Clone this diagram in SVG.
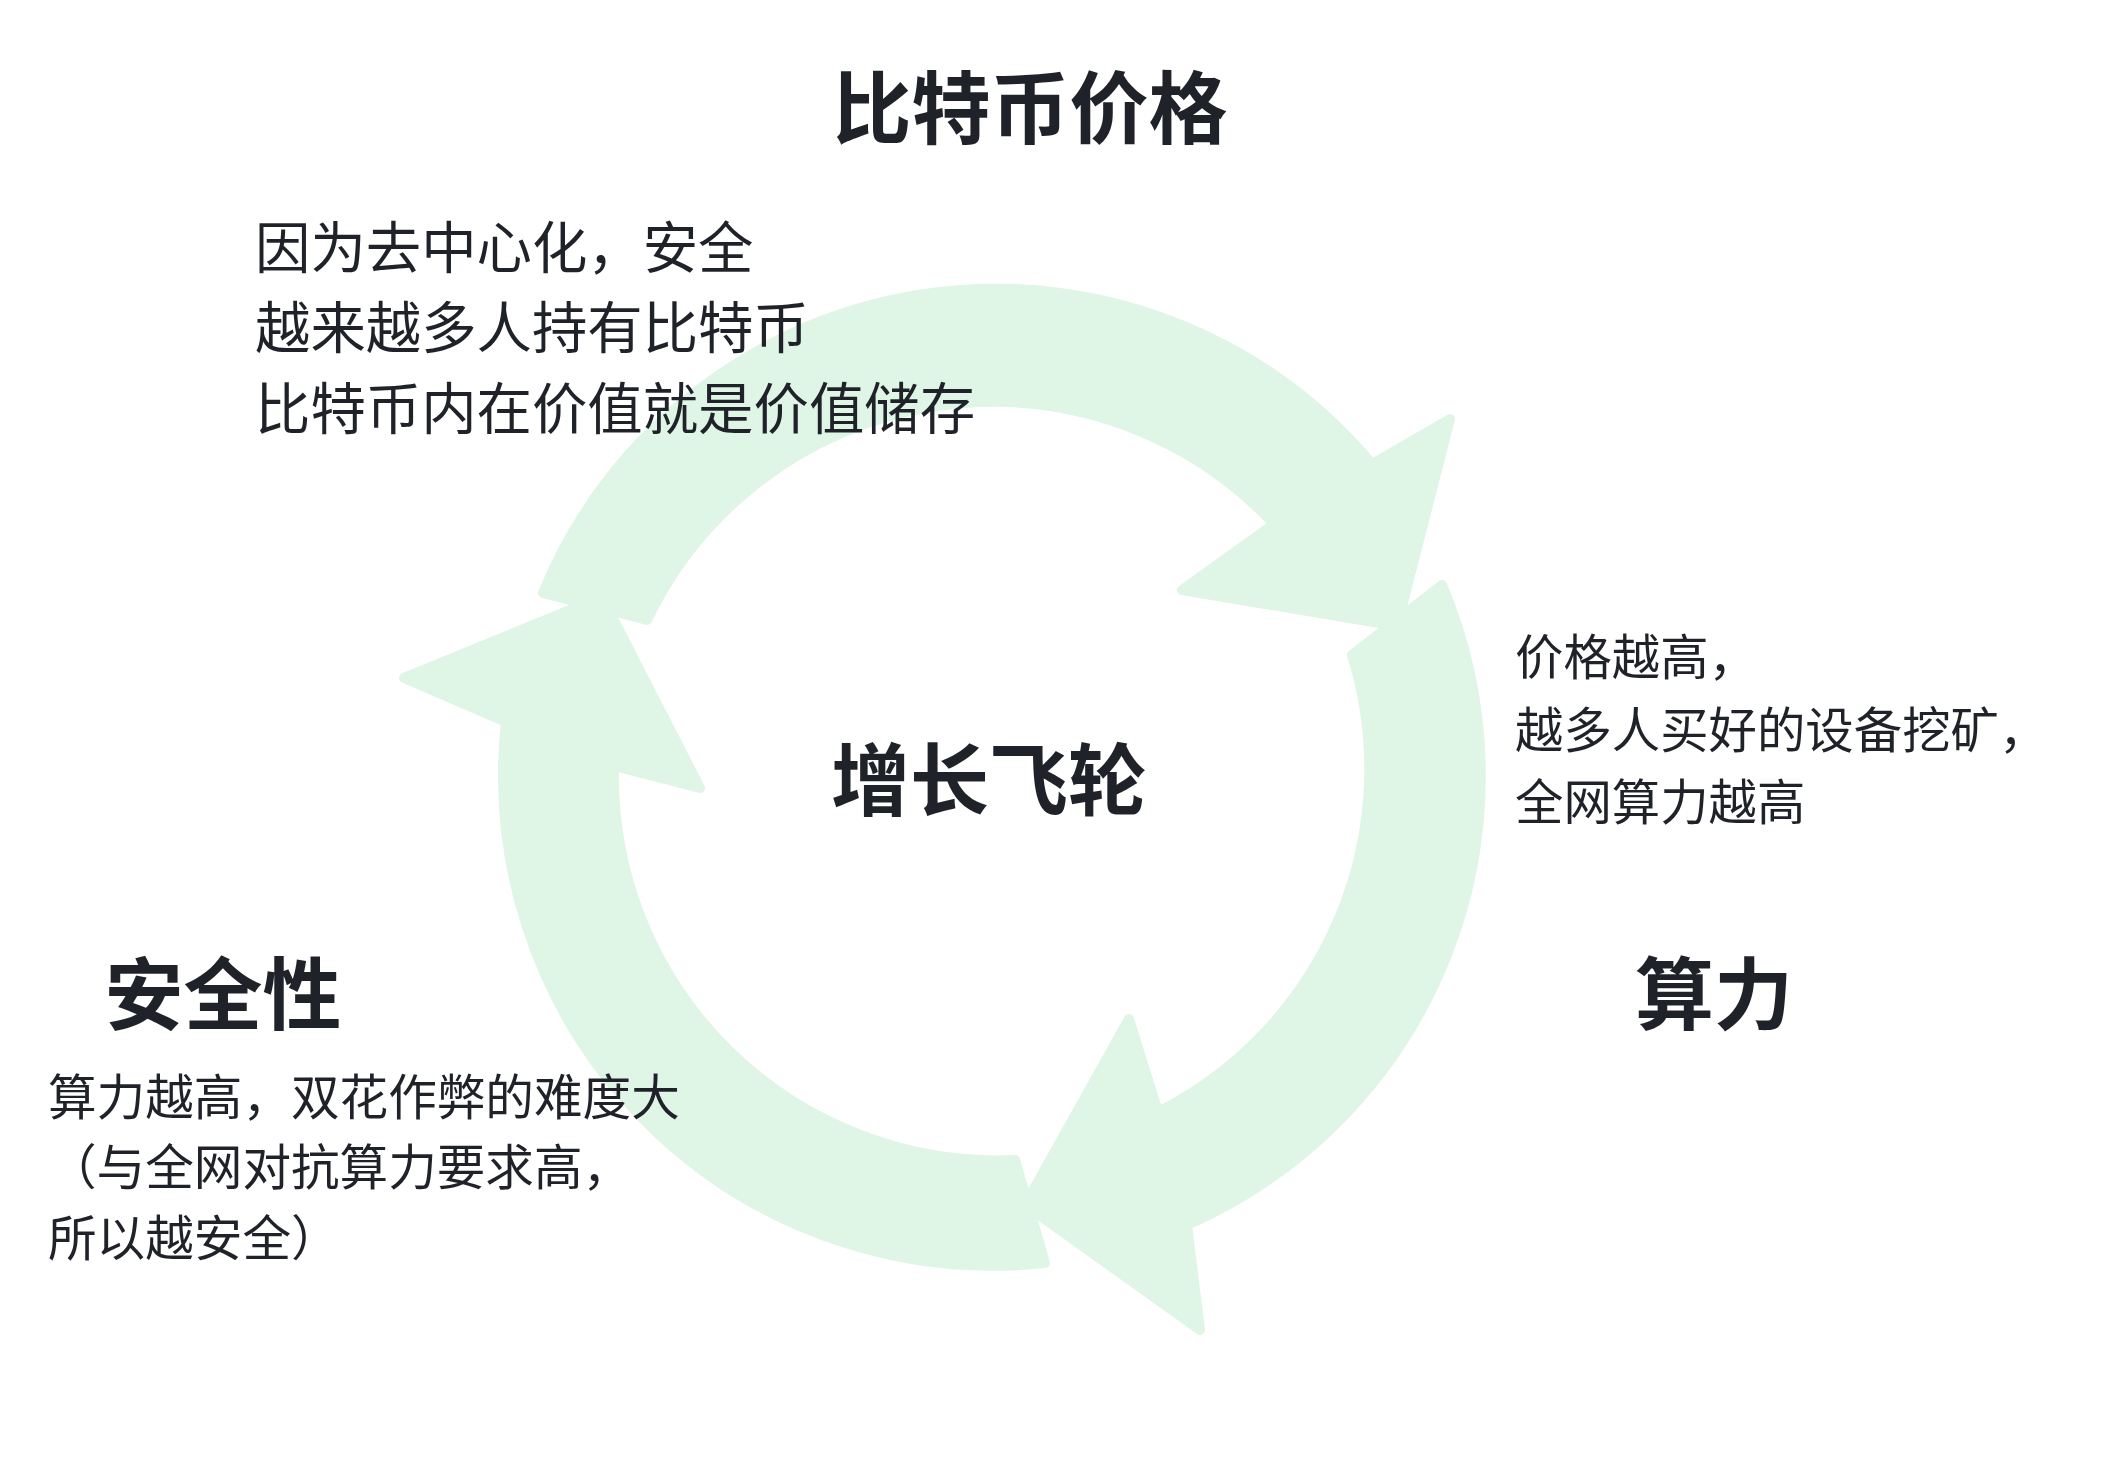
<svg xmlns="http://www.w3.org/2000/svg" width="2112" height="1462" viewBox="0 0 2112 1462">
<style>
.ar{fill:#dff5e5;stroke:#dff5e5;stroke-width:10;stroke-linejoin:round}
text{font-family:"Noto Sans CJK SC","Noto Sans",sans-serif;fill:#1f2329}
.t{font-size:79px;font-weight:bold;text-anchor:middle}
.a{font-size:55.4px}
.b{font-size:48.4px}
.c{font-size:48.6px}
</style>
<rect width="2112" height="1462" fill="#fff"/>
<g id="connectors">
<path class="ar" d="M543,593 A490 490 0 0 1 1372,464 L1450,419 L1397,626 L1182,590 L1274,524 A384 384 0 0 0 647,620 Z"/>
<path class="ar" d="M1442,585 A490 490 0 0 1 1187,1225 L1200,1330 L1025,1205 L1129,1019 L1158,1112 A384 384 0 0 0 1352,655 Z"/>
<path class="ar" d="M1045,1263 A490 490 0 0 1 506,722 L404,678 L602,597 L700,788 L614,766 A384 384 0 0 0 1015,1160 Z"/>
</g>
<g id="price"><text class="t" x="1030" y="138">比特币价格</text></g>
<g id="price-note">
<text class="a" x="255" y="268">因为去中心化，安全</text>
<text class="a" x="255" y="348">越来越多人持有比特币</text>
<text class="a" x="255" y="429">比特币内在价值就是价值储存</text>
</g>
<g id="center"><text class="t" x="989" y="810">增长飞轮</text></g>
<g id="hash-note">
<text class="b" x="1515" y="675">价格越高，</text>
<text class="b" x="1515" y="748">越多人买好的设备挖矿，</text>
<text class="b" x="1515" y="820">全网算力越高</text>
</g>
<g id="hash"><text class="t" x="1714" y="1024">算力</text></g>
<g id="security"><text class="t" x="223" y="1024">安全性</text></g>
<g id="security-note">
<text class="c" x="48" y="1115">算力越高，双花作弊的难度大</text>
<text class="c" x="48" y="1185">（与全网对抗算力要求高，</text>
<text class="c" x="48" y="1256">所以越安全）</text>
</g>
</svg>
